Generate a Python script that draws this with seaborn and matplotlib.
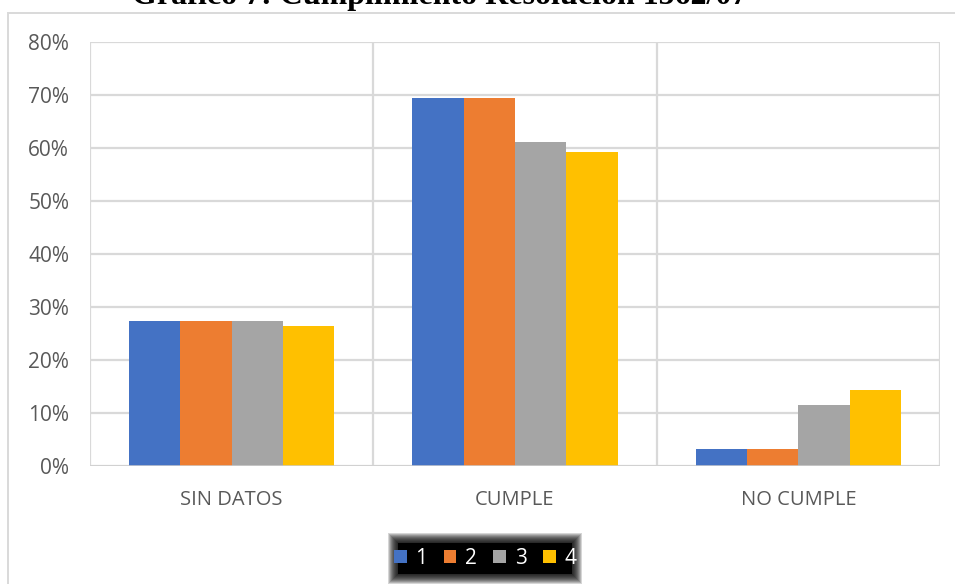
import matplotlib
matplotlib.use("Agg")
import matplotlib.pyplot as plt
from matplotlib.patches import Rectangle
import pandas as pd
import seaborn as sns

categories = ["SIN DATOS", "CUMPLE", "NO CUMPLE"]
series = ["1", "2", "3", "4"]
serie_1 = [27.3, 69.4, 3.3]
serie_2 = [27.3, 69.4, 3.3]
serie_3 = [27.3, 61.2, 11.6]
serie_4 = [26.5, 59.2, 14.3]
y_ticks = [0, 10, 20, 30, 40, 50, 60, 70, 80]
colors = ["#4472C4", "#ED7D31", "#A5A5A5", "#FFC000"]

values = [serie_1, serie_2, serie_3, serie_4]
df = pd.DataFrame(
    [{"categoria": c, "serie": s, "valor": v[i]}
     for s, v in zip(series, values) for i, c in enumerate(categories)]
)

sns.set_theme(style="white")
plt.rcParams["font.family"] = ["Open Sans", "DejaVu Sans"]

W, H = 955, 584
fig = plt.figure(figsize=(W / 100, H / 100), dpi=100)
ax = fig.add_axes([90 / W, 1 - 466 / H, 850 / W, 424 / H])

sns.barplot(data=df, x="categoria", y="valor", hue="serie", order=categories,
            hue_order=series, palette=colors, width=0.725, gap=0,
            saturation=1, legend=False, ax=ax, zorder=3, linewidth=0)

ax.set_xlim(-0.5, 2.5)
ax.set_ylim(0, 80)
ax.set_yticks(y_ticks)
ax.set_yticklabels([f"{t}%" for t in y_ticks])
ax.set_xlabel("")
ax.set_ylabel("")
grid_c = "#D9D9D9"
ax.yaxis.grid(True, color=grid_c, linewidth=1.6, zorder=0)
for xv in [-0.5, 0.5, 1.5, 2.5]:
    ax.axvline(xv, color=grid_c, linewidth=1.6, zorder=0)
for sp in ax.spines.values():
    sp.set_visible(False)
ax.axhline(0, color="#CFCFCF", linewidth=1.8, zorder=4)
ax.tick_params(axis="y", length=0, pad=15, labelsize=15, labelcolor="#595959")
ax.tick_params(axis="x", length=0, pad=17, labelsize=14.5, labelcolor="#595959")

# Outer chart frame
fig.patches.append(Rectangle((8 / W, -0.1), 1.2, 1 - 13 / H + 0.1,
                             transform=fig.transFigure, fill=False,
                             edgecolor="#D9D9D9", linewidth=1.4))

# Title, partly above the top edge
fig.text(440 / W, 1 - 4 / H, "Gráfico 7: Cumplimiento Resolución 1562/07",
         ha="center", va="baseline", fontsize=23, fontweight="bold",
         family=["Liberation Serif", "DejaVu Serif"], color="black")

# Legend on a soft-edged dark backdrop
x0, x1, y0, y1 = 398, 572, 543, 574
for pad in range(10, -1, -1):
    a = 1.0 if pad == 0 else 0.16
    fig.patches.append(Rectangle(((x0 - pad) / W, 1 - (y1 + pad) / H),
                                 (x1 - x0 + 2 * pad) / W, (y1 - y0 + 2 * pad) / H,
                                 transform=fig.transFigure, facecolor="black",
                                 edgecolor="none", alpha=a))
handles = [Rectangle((0, 0), 1, 1, facecolor=c, edgecolor="none") for c in colors]
leg = fig.legend(handles, series, loc="center",
                 bbox_to_anchor=((x0 + x1) / 2 / W, 1 - (y0 + y1) / 2 / H),
                 ncol=4, frameon=False, fontsize=15, handlelength=0.62,
                 handleheight=0.62, handletextpad=0.4, columnspacing=0.8,
                 borderpad=0.2)
for t in leg.get_texts():
    t.set_color("white")

fig.savefig("out.png", dpi=100)
